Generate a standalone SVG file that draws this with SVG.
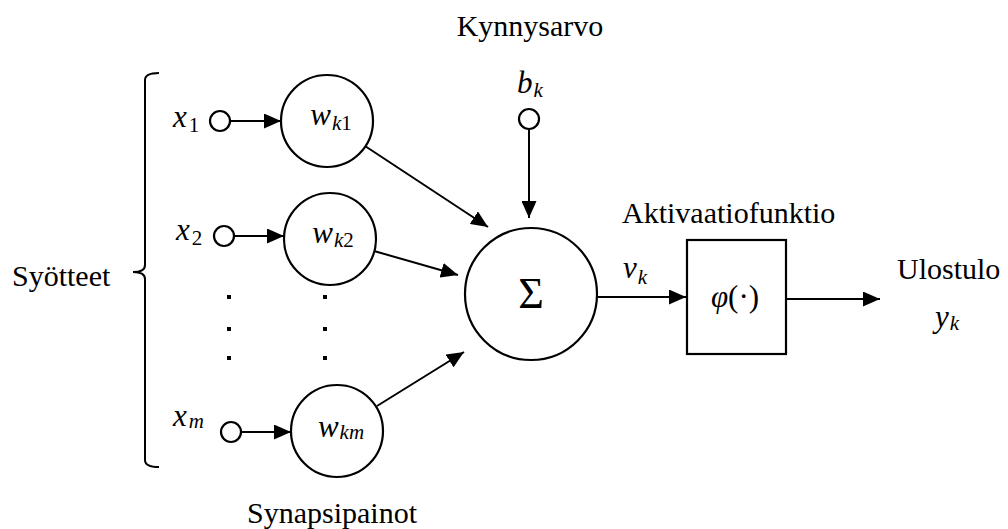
<svg xmlns="http://www.w3.org/2000/svg" width="1008" height="529" viewBox="0 0 1008 529">
  <style>
    .lbl { font-family: 'Liberation Serif', Tinos, 'Times New Roman', Times, 'DejaVu Serif', serif; font-size: 30px; fill: #000; }
    .math { font-family: 'Liberation Serif', Tinos, 'Times New Roman', 'DejaVu Serif', serif; font-style: italic; font-size: 31px; fill: #000; }
    .sub { font-size: 21px; }
    .up { font-style: normal; }
    .ring { fill: #fff; stroke: #000; stroke-width: 2.2; }
    .wire { fill: none; stroke: #000; stroke-width: 2; }
    .dot { fill: #000; }
  </style>
  <defs>
    <marker id="arrow" markerUnits="userSpaceOnUse" markerWidth="17" markerHeight="15" refX="17" refY="7.5" orient="auto">
      <path d="M0,0 L17,7.5 L0,15 Z" fill="#000"/>
    </marker>
  </defs>

  <!-- Section labels -->
  <text class="lbl" x="530" y="36" text-anchor="middle">Kynnysarvo</text>
  <text class="lbl" x="622" y="223">Aktivaatiofunktio</text>
  <text class="lbl" x="897" y="279">Ulostulo</text>
  <text class="lbl" x="247" y="523">Synapsipainot</text>
  <text class="lbl" x="12" y="286">Syötteet</text>

  <!-- Brace grouping the inputs -->
  <path class="wire" d="M159,73 Q145,73 145,80 L145,265 Q145,272 133,272 Q145,272 145,279 L145,460 Q145,467 159,467"/>

  <!-- Connectors -->
  <g id="connectors">
    <line class="wire" x1="230" y1="121" x2="281" y2="121" marker-end="url(#arrow)"/>
    <line class="wire" x1="234" y1="236" x2="284" y2="236" marker-end="url(#arrow)"/>
    <line class="wire" x1="241" y1="432" x2="291" y2="432" marker-end="url(#arrow)"/>
    <line class="wire" x1="365" y1="146" x2="488" y2="227" marker-end="url(#arrow)"/>
    <line class="wire" x1="374" y1="251" x2="458" y2="275" marker-end="url(#arrow)"/>
    <line class="wire" x1="377" y1="406" x2="464" y2="352" marker-end="url(#arrow)"/>
    <line class="wire" x1="529" y1="129" x2="529" y2="218" marker-end="url(#arrow)"/>
    <line class="wire" x1="598" y1="297" x2="686" y2="297" marker-end="url(#arrow)"/>
    <line class="wire" x1="786" y1="299" x2="880" y2="299" marker-end="url(#arrow)"/>
  </g>

  <!-- Inputs -->
  <g id="input-x1">
    <circle class="ring" cx="220" cy="121" r="10"/>
    <text class="math" x="173" y="127">x<tspan class="sub up" dx="2" dy="5">1</tspan></text>
  </g>
  <g id="input-x2">
    <circle class="ring" cx="224" cy="236" r="10"/>
    <text class="math" x="176" y="240">x<tspan class="sub up" dx="2" dy="5">2</tspan></text>
  </g>
  <g id="input-xm">
    <circle class="ring" cx="231" cy="432" r="10"/>
    <text class="math" x="173" y="426">x<tspan class="sub" dx="2" dy="2">m</tspan></text>
  </g>

  <!-- Ellipsis dots between inputs and weights -->
  <g id="ellipsis">
    <rect class="dot" x="227" y="295" width="4" height="4"/>
    <rect class="dot" x="227" y="327" width="4" height="4"/>
    <rect class="dot" x="227" y="356" width="4" height="4"/>
    <rect class="dot" x="323" y="295" width="4" height="4"/>
    <rect class="dot" x="323" y="327" width="4" height="4"/>
    <rect class="dot" x="323" y="356" width="4" height="4"/>
  </g>

  <!-- Synaptic weights -->
  <g id="weight-wk1">
    <circle class="ring" cx="327" cy="121" r="46"/>
    <text class="math" x="331" y="125" text-anchor="middle">w<tspan class="sub" dx="1" dy="5">k</tspan><tspan class="sub up">1</tspan></text>
  </g>
  <g id="weight-wk2">
    <circle class="ring" cx="330" cy="239" r="46"/>
    <text class="math" x="333" y="243" text-anchor="middle">w<tspan class="sub" dx="1" dy="4">k</tspan><tspan class="sub up">2</tspan></text>
  </g>
  <g id="weight-wkm">
    <circle class="ring" cx="337" cy="431" r="46"/>
    <text class="math" x="341" y="437" text-anchor="middle">w<tspan class="sub" dx="1" dy="2">km</tspan></text>
  </g>

  <!-- Bias -->
  <g id="bias">
    <circle class="ring" cx="529" cy="119" r="10"/>
    <text class="math" x="517" y="93">b<tspan class="sub" dx="1" dy="4">k</tspan></text>
  </g>

  <!-- Summing junction -->
  <g id="sum">
    <circle class="ring" cx="531" cy="294" r="66"/>
    <text class="lbl" x="531" y="308" text-anchor="middle" style="font-size:44px">Σ</text>
  </g>

  <!-- Induced field label -->
  <text class="math" x="623" y="278">v<tspan class="sub" dx="1" dy="6">k</tspan></text>

  <!-- Activation function -->
  <g id="activation">
    <rect x="687" y="240" width="99" height="114" fill="#fff" stroke="#000" stroke-width="2.2"/>
    <text class="math" x="735" y="307" text-anchor="middle">φ<tspan class="up">(·)</tspan></text>
  </g>

  <!-- Output -->
  <g id="output">
    <text class="math" x="935" y="327">y<tspan class="sub" dx="1" dy="3">k</tspan></text>
  </g>
</svg>
